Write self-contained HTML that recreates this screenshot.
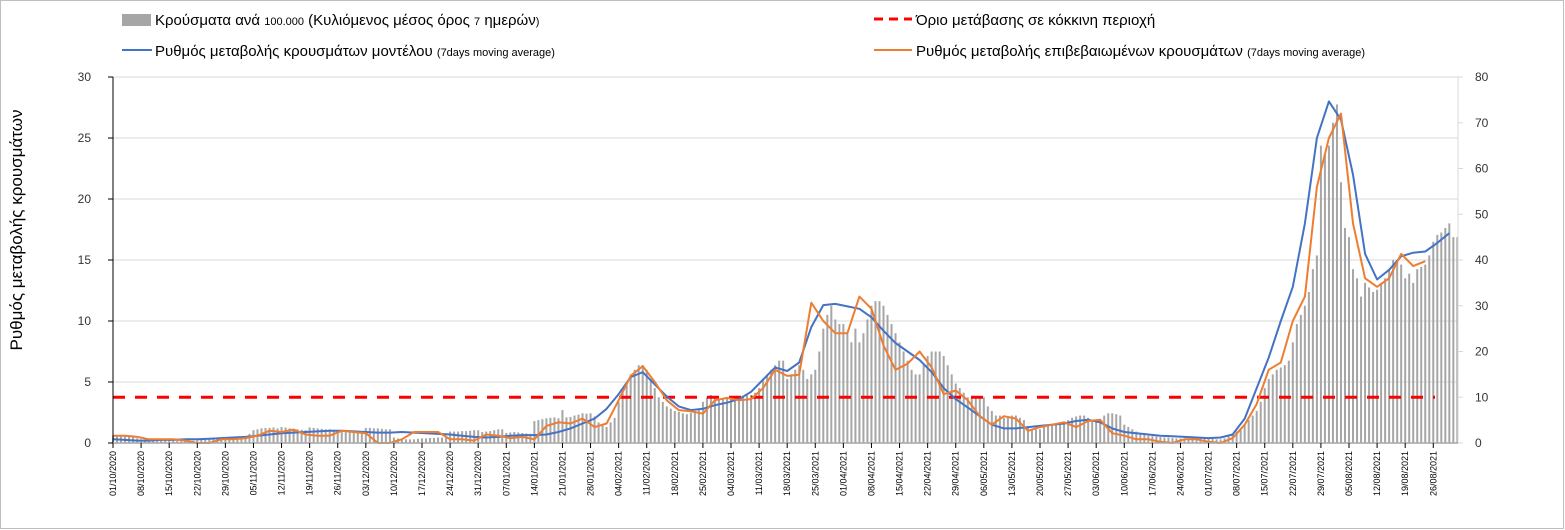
<!DOCTYPE html>
<html><head><meta charset="utf-8"><style>
body{margin:0;background:#fff}
svg{display:block;font-family:"Liberation Sans",sans-serif}
</style></head><body>
<svg id="chart" width="1565" height="530" viewBox="0 0 1565 530" xmlns="http://www.w3.org/2000/svg">
<rect x="0.5" y="0.5" width="1563" height="528" fill="#fff" stroke="#bfbfbf"/>
<g>
 <g>
  <rect x="122" y="14" width="29" height="12" fill="#a6a6a6"/>
  <text x="155" y="25" font-size="15" fill="#000">Κρούσματα ανά <tspan font-size="11">100.000</tspan> (Κυλιόμενος μέσος όρος <tspan font-size="11">7</tspan> ημερών<tspan font-size="11">)</tspan></text>
 </g>
 <g>
  <line x1="122" y1="50" x2="152" y2="50" stroke="#4472c4" stroke-width="2"/>
  <text x="155" y="56" font-size="15" fill="#000">Ρυθμός μεταβολής κρουσμάτων μοντέλου <tspan font-size="11">(7days moving average)</tspan></text>
 </g>
 <g>
  <line x1="874" y1="19" x2="912" y2="19" stroke="#ff0000" stroke-width="3" stroke-dasharray="9,6"/>
  <text x="916" y="25" font-size="15" fill="#000">Όριο μετάβασης σε κόκκινη περιοχή</text>
 </g>
 <g>
  <line x1="874" y1="50" x2="912" y2="50" stroke="#ed7d31" stroke-width="2"/>
  <text x="916" y="56" font-size="15" fill="#000">Ρυθμός μεταβολής επιβεβαιωμένων κρουσμάτων <tspan font-size="11">(7days moving average)</tspan></text>
 </g>
</g>
<text transform="translate(22,230) rotate(-90)" text-anchor="middle" font-size="17" fill="#000">Ρυθμός μεταβολής κρουσμάτων</text>
<g id="grid"></g><g id="bars"></g><g id="threshold"></g><g id="lines"></g><g id="axes"></g>
</svg>
<script>
const leftTicks=[0,5,10,15,20,25,30];
const rightTicks=[0,10,20,30,40,50,60,70,80];
const thresholdValue=10; // right axis units
const dateLabels=["01/10/2020","08/10/2020","15/10/2020","22/10/2020","29/10/2020","05/11/2020","12/11/2020","19/11/2020","26/11/2020","03/12/2020","10/12/2020","17/12/2020","24/12/2020","31/12/2020","07/01/2021","14/01/2021","21/01/2021","28/01/2021","04/02/2021","11/02/2021","18/02/2021","25/02/2021","04/03/2021","11/03/2021","18/03/2021","25/03/2021","01/04/2021","08/04/2021","15/04/2021","22/04/2021","29/04/2021","06/05/2021","13/05/2021","20/05/2021","27/05/2021","03/06/2021","10/06/2021","17/06/2021","24/06/2021","01/07/2021","08/07/2021","15/07/2021","22/07/2021","29/07/2021","05/08/2021","12/08/2021","19/08/2021","26/08/2021"];
const cases=[1.6,1.5,1.5,1.4,1.4,1.3,1.0, 0.8,0.7,0.6,0.6,0.7,0.8,0.8, 0.6,0.5,0.5,0.4,0.4,0.4,0.5, 0.6,0.7,0.7,0.8,0.8,0.9,1.0, 1.0,1.1,1.1,1.2,1.2,1.5,2.0,
2.8,3.0,3.2,3.3,3.3,3.4,3.2, 3.5,3.4,3.2,3.1,3.0,2.9,2.8, 3.4,3.3,3.2,3.1,3.0,3.0,2.9, 2.6,2.5,2.4,2.4,2.4,2.5,2.6, 3.3,3.3,3.2,3.2,3.1,3.0,3.0,
1.2,1.0,0.9,0.8,0.8,0.8,0.9, 1.0,1.0,1.1,1.1,1.2,1.2,1.4, 2.5,2.5,2.5,2.6,2.6,2.7,2.8, 2.8,2.4,2.5,2.6,2.8,3.0,3.0, 2.2,2.3,2.4,2.3,2.2,2.1,2.0,
4.8,5.0,5.2,5.4,5.5,5.6,5.4, 7.2,5.6,5.7,6.0,6.2,6.5,6.4, 6.5,5.8,4.5,4.0,3.5,4.5,5.5, 9,11,13,15,16,17,17, 16,14,12,10,9,8,7.5,
7,6.8,6.5,6.3,6.6,7,7.5, 9,10,10.5,10,9.5,9.5,10, 10,10,10.2,10.3,10.5,10.5,11, 12,14,15,16,17,18,18, 14,15,16,17,16,14,15,
16,20,25,28,30,27,26, 26,24,22,25,22,24,27, 30,31,31,30,28,26,24, 22,20,18,16,15,15,17, 19,20,20,20,19,17,15,
13,12,11,10,10,10,10, 10,8,7,6,6,5.5,5.5, 6,6,5.5,5,3.5,3,3, 3,3.5,4,4,4,4.2,4.5, 5,5.5,5.8,6,6,5.5,5,
5,5,6,6.5,6.5,6.3,6, 4,3.5,3,2.5,2,1.8,1.6, 1.5,1.4,1.3,1.2,1.2,1.1,1.0, 1.0,1.0,1.0,1.1,1.1,1.1,1.0, 0.9,0.9,0.8,0.8,1.0,1.5,2.0,
2.5,3,4,5,6,7,9, 12,14,15,16,16.5,17,18, 22,26,28,30,33,38,41, 65,63,65,70,74,57,47, 45,38,36,32,35,34,33,
33.5,35,36,38,40,40,39, 36,37,35,38,38.5,39,41, 44,45.5,46,47,48,45,45];
const lineStep=3;
const modelRate=[0.3,0.25,0.2,0.2,0.25,0.25,0.3,0.3,0.35,0.4,0.45,
0.5,0.6,0.7,0.8,0.85,0.9,0.95,1.0,1.0,0.95,
0.9,0.85,0.85,0.9,0.85,0.8,0.75,0.7,0.6,0.5,
0.45,0.5,0.6,0.65,0.65,0.7,0.9,1.2,1.6,2.0,
2.8,4.0,5.4,5.8,4.8,3.8,3.0,2.7,2.8,3.1,
3.3,3.6,4.2,5.2,6.2,5.9,6.6,9.5,11.3,11.4,
11.2,11.0,10.3,9.2,8.2,7.5,6.8,5.8,4.5,3.6,
2.9,2.2,1.5,1.2,1.2,1.3,1.4,1.5,1.6,1.8,
1.9,1.7,1.2,0.9,0.8,0.7,0.6,0.55,0.5,0.45,
0.4,0.45,0.7,2.0,4.5,7.0,10.0,12.8,18.0,25.0,
28.0,26.5,22.0,15.5,13.4,14.2,15.3,15.6,15.7,16.4,17.2];
const confirmedRate=[0.6,0.6,0.5,0.3,0.3,0.3,0.2,0.0,0.0,0.3,0.3,
0.4,0.6,1.0,0.9,1.1,0.7,0.6,0.6,1.0,0.9,
0.8,0.0,0.0,0.3,0.9,0.9,0.9,0.3,0.3,0.2,
0.7,0.6,0.4,0.5,0.3,1.4,1.7,1.6,2.0,1.3,
1.6,3.5,5.5,6.3,5.0,3.5,2.7,2.6,2.4,3.5,
3.7,3.5,3.6,4.5,6.0,5.5,5.6,11.5,10.0,9.0,
9.0,12.0,11.0,8.0,6.0,6.5,7.5,6.2,4.0,4.3,
3.5,2.2,1.5,2.2,2.0,1.0,1.3,1.5,1.7,1.3,
1.8,1.9,0.8,0.6,0.3,0.3,0.1,0.0,0.3,0.3,
0.1,0.0,0.4,1.5,3.2,6.0,6.6,10.0,12.0,21.0,
25.0,27.0,18.0,13.5,12.8,13.5,15.5,14.5,14.9,null,null];

const NS="http://www.w3.org/2000/svg";
const X0=113,DAY=4.013,Y0=443,PH=366;
function xDay(d){return X0+d*DAY;}
function yL(v){return Y0-v/30*PH;}
function yR(v){return Y0-v/80*PH;}
function mk(tag,attrs,parent){const e=document.createElementNS(NS,tag);for(const k in attrs)e.setAttribute(k,attrs[k]);parent.appendChild(e);return e;}
const grid=document.getElementById('grid'),bars=document.getElementById('bars'),thr=document.getElementById('threshold'),lines=document.getElementById('lines'),axes=document.getElementById('axes');
leftTicks.forEach(t=>{if(t===0)return;const g=mk('line',{x1:X0,x2:1458,y1:yL(t),y2:yL(t),stroke:'#d9d9d9','stroke-width':1},grid);

});
cases.forEach((v,i)=>{const r=mk('rect',{x:xDay(i)-1,y:yR(v),width:2,height:Y0-yR(v),fill:'#a6a6a6'},bars);

});
const tl=mk('line',{x1:X0,x2:1435,y1:yR(thresholdValue),y2:yR(thresholdValue),stroke:'#ff0000','stroke-width':3,'stroke-dasharray':'12,10'},thr);


function path(arr,color,name){let d='',pen=false;arr.forEach((v,i)=>{if(v===null){pen=false;return;}d+=(pen?'L':'M')+xDay(i*lineStep).toFixed(1)+','+yL(v).toFixed(1);pen=true;});
const p=mk('path',{d:d,fill:'none',stroke:color,'stroke-width':2,'stroke-linejoin':'round'},lines);

}
path(modelRate,'#4472c4','model-rate-line');
path(confirmedRate,'#ed7d31','confirmed-rate-line');
// axes
const la=mk('line',{x1:X0,x2:X0,y1:77,y2:Y0,stroke:'#000'},axes);


const ra=mk('line',{x1:1458,x2:1458,y1:77,y2:Y0,stroke:'#d9d9d9'},axes);


const xa=mk('line',{x1:X0,x2:1458,y1:Y0,y2:Y0,stroke:'#a6a6a6','stroke-width':1.5},axes);


leftTicks.forEach(t=>{mk('line',{x1:X0-5,x2:X0,y1:yL(t),y2:yL(t),stroke:'#000'},axes);
const tx=mk('text',{x:X0-22,y:yL(t)+4,'text-anchor':'end','font-size':12,fill:'#333'},axes);tx.textContent=t;

});
rightTicks.forEach(t=>{mk('line',{x1:1458,x2:1463,y1:yR(t),y2:yR(t),stroke:'#d9d9d9'},axes);
const tx=mk('text',{x:1475,y:yR(t)+4,'text-anchor':'start','font-size':12,fill:'#333'},axes);tx.textContent=t;

});
dateLabels.forEach((s,i)=>{const x=xDay(i*7);mk('line',{x1:x,x2:x,y1:Y0,y2:Y0+5,stroke:'#000'},axes);
const tx=mk('text',{transform:'translate('+(x+3)+','+(Y0+8)+') rotate(-90)','text-anchor':'end','font-size':9,fill:'#000'},axes);tx.textContent=s;

});
</script>
</body></html>
